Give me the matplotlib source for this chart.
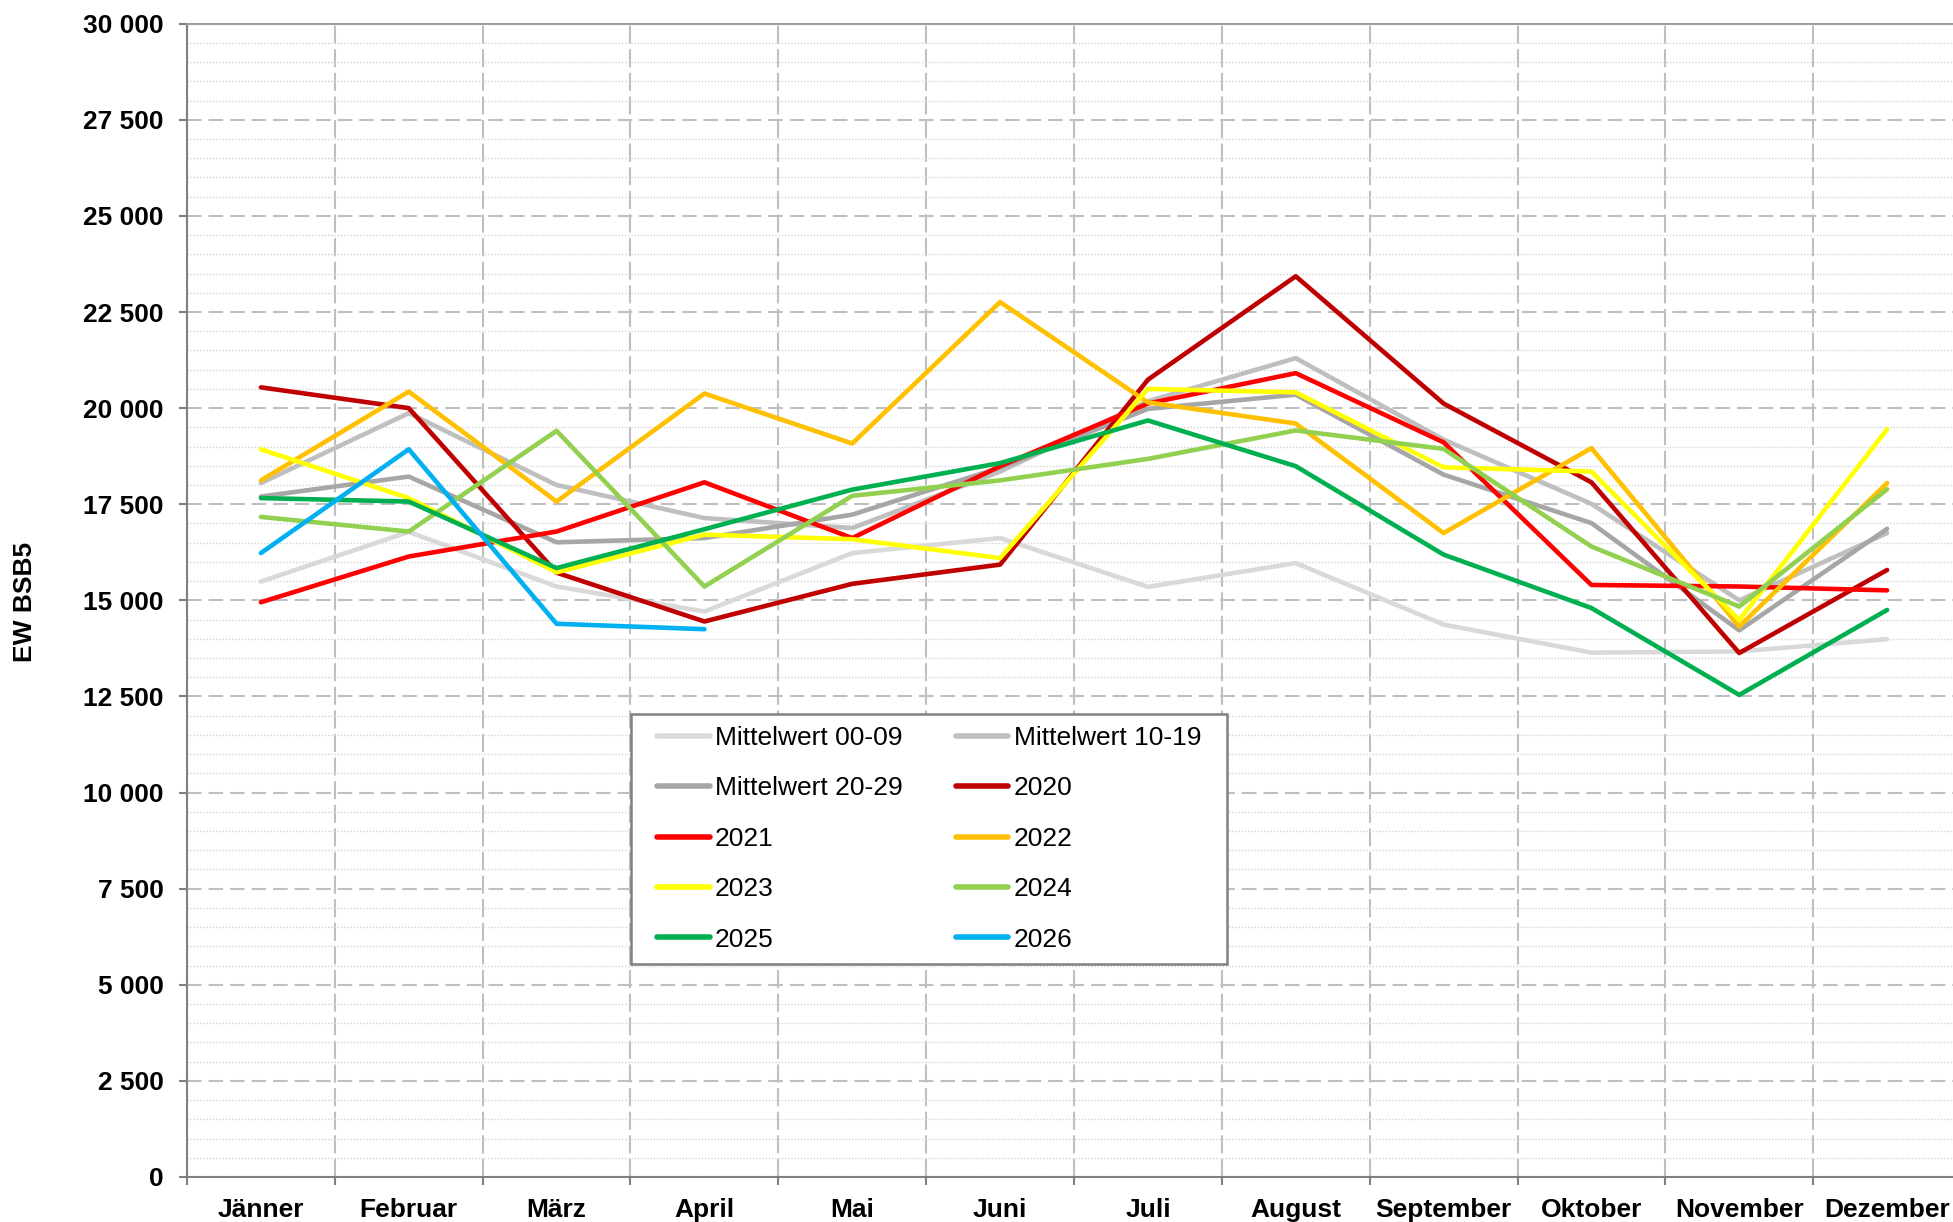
import matplotlib
matplotlib.use("Agg")
import matplotlib.pyplot as plt
from matplotlib.patches import Rectangle
from matplotlib.ticker import MultipleLocator, FixedLocator, FuncFormatter

plt.rcParams['font.family'] = ['Liberation Sans', 'DejaVu Sans']
plt.rcParams['lines.scale_dashes'] = False

# month labels
months = ['Jänner', 'Februar', 'März', 'April', 'Mai', 'Juni', 'Juli',
          'August', 'September', 'Oktober', 'November', 'Dezember']

# values (EW BSB5)
mw_00_09 = [15490, 16780, 15360, 14710, 16230, 16620, 15350, 15970, 14370, 13640, 13670, 13990]
mw_10_19 = [18050, 19870, 18000, 17140, 16880, 18350, 20180, 21300, 19180, 17510, 15000, 16750]
mw_20_29 = [17700, 18220, 16510, 16620, 17230, 18450, 19980, 20350, 18270, 17010, 14220, 16860]
y2020 = [20540, 20000, 15720, 14450, 15430, 15930, 20740, 23430, 20120, 18070, 13630, 15790]
y2021 = [14950, 16140, 16790, 18070, 16620, 18490, 20120, 20910, 19110, 15400, 15360, 15260]
y2022 = [18120, 20430, 17570, 20380, 19080, 22760, 20150, 19600, 16750, 18960, 14320, 18050]
y2023 = [18930, 17660, 15730, 16710, 16590, 16100, 20500, 20410, 18460, 18350, 14490, 19450]
y2024 = [17170, 16790, 19410, 15360, 17720, 18120, 18680, 19420, 18940, 16400, 14840, 17890]
y2025 = [17660, 17570, 15840, 16850, 17880, 18570, 19680, 18490, 16190, 14800, 12540, 14750]
y2026 = [16230, 18930, 14390, 14250]

series = [
    ('Mittelwert 00-09', mw_00_09, '#d9d9d9'),
    ('Mittelwert 10-19', mw_10_19, '#bfbfbf'),
    ('Mittelwert 20-29', mw_20_29, '#a6a6a6'),
    ('2020', y2020, '#c00000'),
    ('2021', y2021, '#ff0000'),
    ('2022', y2022, '#ffc000'),
    ('2023', y2023, '#ffff00'),
    ('2024', y2024, '#92d050'),
    ('2025', y2025, '#00b050'),
    ('2026', y2026, '#00b0f0'),
]

fig = plt.figure(figsize=(19.53, 12.22), dpi=100)
ax = fig.add_axes([187 / 1953, 1 - 1177 / 1222, (1961 - 187) / 1953, (1177 - 23.7) / 1222])

for name, vals, col in series:
    ax.plot(range(len(vals)), vals, color=col, lw=3.3, label=name,
            solid_capstyle='round', solid_joinstyle='round', zorder=3)

ax.set_xlim(-0.5, 11.5)
ax.set_ylim(0, 30000)

# y axis
ax.yaxis.set_major_locator(MultipleLocator(2500))
ax.yaxis.set_minor_locator(MultipleLocator(500))
ax.yaxis.set_major_formatter(FuncFormatter(lambda v, p: f"{int(v):,}".replace(',', ' ')))
ax.grid(which='major', axis='y', color='#bfbfbf', lw=1.5, linestyle=(0, (10.5, 5)))
ax.grid(which='minor', axis='y', color='#d4d4d4', lw=1.0, linestyle=(0, (1, 1.3)))
ax.tick_params(axis='y', which='major', length=6, width=1.5, color='#808080',
               pad=11, labelsize=19)
ax.tick_params(axis='y', which='minor', length=0)
for lbl in ax.get_yticklabels():
    lbl.set_fontweight('bold')

# x axis: labels at month centres, ticks + grid at the boundaries
ax.set_xticks(range(12))
ax.set_xticklabels(months, fontsize=19, fontweight='bold')
ax.xaxis.set_minor_locator(FixedLocator([i + 0.5 for i in range(-1, 12)]))
ax.tick_params(axis='x', which='major', length=0, pad=15)
ax.tick_params(axis='x', which='minor', length=6, width=1.5, color='#808080')
ax.grid(which='minor', axis='x', color='#bfbfbf', lw=1.5, linestyle=(0, (13, 4)))
ax.set_axisbelow(True)

for side in ['left', 'bottom']:
    ax.spines[side].set_color('#808080')
    ax.spines[side].set_linewidth(1.5)
ax.spines['top'].set_color('#a0a0a0')
ax.spines['top'].set_linewidth(1.5)
ax.spines['right'].set_visible(False)

fig.text(25 / 1953, 1 - 483 * 1.2455 / 1222, 'EW BSB5', rotation=90, fontsize=19,
         fontweight='bold', ha='center', va='center')

# legend filled row by row, like the original
handles, labels = ax.get_legend_handles_labels()
order = [0, 2, 4, 6, 8, 1, 3, 5, 7, 9]
leg = ax.legend([handles[i] for i in order], [labels[i] for i in order],
                loc='upper left', bbox_to_anchor=(657 / 1953, 1 - 726 / 1222),
                bbox_transform=fig.transFigure, ncol=2, fontsize=19,
                frameon=False, borderpad=0, labelspacing=1.0, handlelength=2.0,
                handletextpad=0.2, columnspacing=2.0, borderaxespad=0)
for h in leg.get_lines():
    h.set_linewidth(4)

# legend box: wider padding left/right than top/bottom (as in the original)
fig.canvas.draw()
bb = leg.get_window_extent()
padx, pady = 26, 12
(x0, y0), (x1, y1) = ax.transAxes.inverted().transform(
    [(bb.x0 - padx, bb.y0 - pady), (bb.x1 + padx, bb.y1 + pady)])
ax.add_patch(Rectangle((x0, y0), x1 - x0, y1 - y0, transform=ax.transAxes,
                       facecolor='white', edgecolor='#808080', lw=1.8,
                       clip_on=False, zorder=4))

fig.savefig('out.png', dpi=100)
